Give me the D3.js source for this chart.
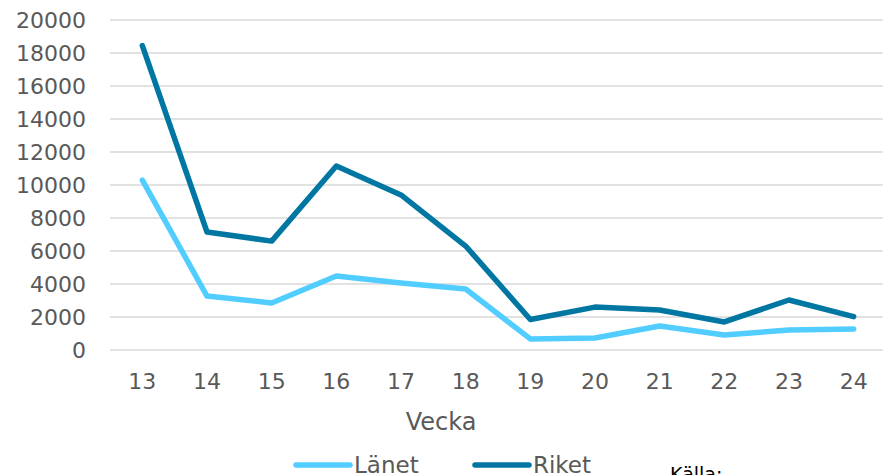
<!DOCTYPE html>
<html>
<head>
<meta charset="utf-8">
<script src="https://cdn.jsdelivr.net/npm/d3@7"></script>
<style>
  body { margin: 0; background: #fff; }
  text { font-family: "DejaVu Sans", Verdana, sans-serif; fill: #595959; }
</style>
</head>
<body>
<div id="chart"></div>
<script>
(function() {
  var weeks = ['13', '14', '15', '16', '17', '18', '19', '20', '21', '22', '23', '24'];
  var lanet = [10300, 3270, 2850, 4480, 4060, 3700, 670, 730, 1450, 910, 1210, 1270];
  var riket = [18450, 7150, 6600, 11150, 9400, 6300, 1850, 2600, 2420, 1700, 3030, 2020];
  var yTicks = [0, 2000, 4000, 6000, 8000, 10000, 12000, 14000, 16000, 18000, 20000];

  var series = [
    { name: 'Länet', values: lanet, colour: '#52cdff' },
    { name: 'Riket', values: riket, colour: '#0077a3' }
  ];

  var width = 883, height = 475;
  var svg = d3.select('#chart')
            .append('svg')
            .attr('width', width)
            .attr('height', height);

  var x = d3.scaleBand()
            .domain(weeks)
            .range([110, 886]);

  var y = d3.scaleLinear()
            .domain([0, 20000])
            .range([350, 20]);

  // gridlines
  svg.append('g')
    .selectAll('line')
    .data(yTicks)
    .enter().append('line')
    .attr('x1', 110)
    .attr('x2', width)
    .attr('y1', function(d) { return y(d); })
    .attr('y2', function(d) { return y(d); })
    .attr('stroke', '#d9d9d9')
    .attr('stroke-width', 1.3);

  var yAxis = svg.append('g')
    .attr('transform', 'translate(86,0)')
    .call(d3.axisLeft(y).tickValues(yTicks).tickFormat(d3.format('d')).tickSize(0).tickPadding(0));
  yAxis.select('.domain').remove();
  yAxis.selectAll('text')
    .attr('font-size', 22)
    .attr('fill', '#595959')
    .attr('font-family', '"DejaVu Sans", Verdana, sans-serif');

  var xAxis = svg.append('g')
    .attr('transform', 'translate(0,350)')
    .call(d3.axisBottom(x).tickSize(0).tickPadding(23));
  xAxis.select('.domain').remove();
  xAxis.selectAll('text')
    .attr('font-size', 22)
    .attr('fill', '#595959')
    .attr('font-family', '"DejaVu Sans", Verdana, sans-serif');

  svg.append('text')
    .attr('x', 441)
    .attr('y', 430)
    .attr('text-anchor', 'middle')
    .attr('font-size', 24)
    .text('Vecka');

  var line = d3.line()
    .x(function(d, i) { return x(weeks[i]) + x.bandwidth() / 2; })
    .y(function(d) { return y(d); });

  series.forEach(function(s) {
    svg.append('path')
      .attr('d', line(s.values))
      .attr('fill', 'none')
      .attr('stroke', s.colour)
      .attr('stroke-width', 5.5)
      .attr('stroke-linejoin', 'round')
      .attr('stroke-linecap', 'round');
  });

  // legend
  var legendX = [296, 475];
  series.forEach(function(s, i) {
    svg.append('line')
      .attr('x1', legendX[i])
      .attr('x2', legendX[i] + 54)
      .attr('y1', 465)
      .attr('y2', 465)
      .attr('stroke', s.colour)
      .attr('stroke-width', 5.5)
      .attr('stroke-linecap', 'round');
    svg.append('text')
      .attr('x', legendX[i] + 58)
      .attr('y', 473)
      .attr('font-size', 23)
      .text(s.name);
  });

  svg.append('text')
    .attr('x', 670)
    .attr('y', 481)
    .attr('font-size', 19)
    .style('fill', '#000')
    .text('Källa:');
}());
</script>
</body>
</html>
